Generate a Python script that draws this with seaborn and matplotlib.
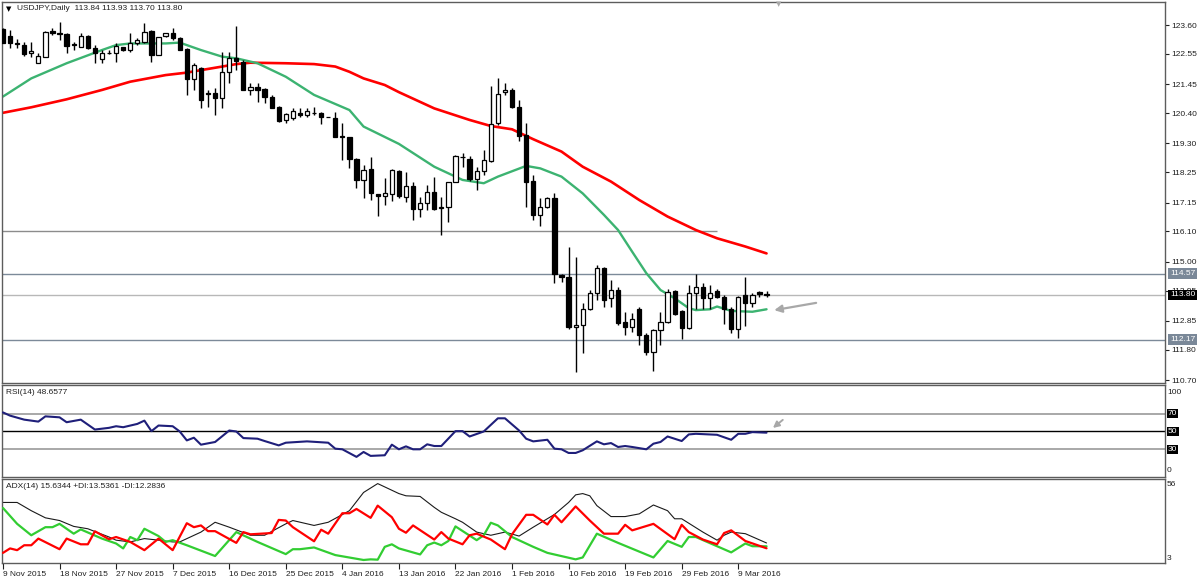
import numpy as np
import matplotlib
matplotlib.use("Agg")
import matplotlib.pyplot as plt
from matplotlib.transforms import blended_transform_factory, offset_copy
import seaborn as sns

# ------------------------------------------------------------------ data
date_labels = ["9 Nov 2015", "18 Nov 2015", "27 Nov 2015", "7 Dec 2015", "16 Dec 2015",
               "25 Dec 2015", "4 Jan 2016", "13 Jan 2016", "22 Jan 2016", "1 Feb 2016",
               "10 Feb 2016", "19 Feb 2016", "29 Feb 2016", "9 Mar 2016"]

opens = [123.44, 123.20, 122.96, 122.87, 122.59, 122.21, 122.42, 123.38, 123.30, 123.27,
         122.90, 122.79, 123.20, 122.78, 122.35, 122.59, 122.57, 122.79, 122.69, 122.93,
         122.99, 123.39, 122.51, 123.20, 123.30, 123.11, 122.72, 121.62, 122.02, 121.12,
         121.12, 120.93, 121.90, 122.39, 122.27, 121.24, 121.33, 121.26, 120.99, 120.63,
         120.15, 120.21, 120.41, 120.33, 120.41, 120.39, 120.25, 120.21, 119.55, 119.54,
         118.72, 117.97, 118.36, 117.46, 117.40, 117.46, 118.30, 117.36, 117.75, 116.90,
         117.12, 117.54, 116.95, 116.97, 117.88, 118.81, 118.72, 118.00, 118.31, 118.65,
         120.03, 121.16, 121.24, 120.61, 119.60, 117.94, 116.70, 116.97, 117.30, 114.51,
         114.46, 112.64, 112.70, 113.27, 113.87, 114.76, 113.67, 113.97, 112.82, 112.64,
         113.27, 112.33, 111.73, 112.52, 112.82, 113.94, 113.22, 112.58, 113.85, 114.09,
         113.67, 113.94, 113.73, 113.27, 112.54, 113.79, 113.51, 113.88, 113.84]
highs = [123.48, 123.42, 123.08, 122.99, 122.99, 122.57, 123.39, 123.48, 123.72, 123.30,
         122.99, 123.30, 123.24, 122.87, 122.69, 122.69, 122.93, 122.81, 123.32, 123.11,
         123.66, 123.42, 123.18, 123.32, 123.48, 123.18, 122.75, 122.21, 122.09, 121.24,
         121.30, 122.63, 122.63, 123.56, 122.33, 121.48, 121.48, 121.30, 121.06, 120.66,
         120.39, 120.57, 120.57, 120.57, 120.63, 120.45, 120.25, 120.45, 120.03, 119.54,
         118.75, 118.51, 118.81, 117.46, 118.04, 118.35, 118.33, 118.27, 117.91, 117.36,
         117.79, 118.09, 117.36, 117.91, 118.88, 118.94, 118.84, 118.45, 119.06, 121.38,
         121.66, 121.48, 121.30, 120.87, 120.03, 118.15, 117.30, 117.36, 117.51, 114.55,
         115.52, 115.18, 113.51, 113.97, 114.88, 114.82, 114.33, 114.09, 113.18, 113.12,
         113.37, 112.42, 112.54, 113.18, 114.00, 113.97, 113.24, 114.15, 114.55, 114.24,
         114.15, 113.99, 113.79, 113.37, 113.75, 114.46, 113.87, 113.94, 113.93]
lows = [122.93, 122.75, 122.75, 122.47, 122.45, 122.21, 122.42, 123.24, 123.05, 122.59,
        122.69, 122.79, 122.72, 122.23, 122.23, 122.55, 122.27, 122.67, 122.63, 122.87,
        122.93, 122.27, 122.51, 123.18, 123.05, 122.69, 121.06, 121.24, 120.57, 120.61,
        120.33, 120.57, 121.48, 121.96, 121.24, 121.06, 120.81, 120.75, 120.57, 120.09,
        120.03, 120.15, 120.27, 120.27, 120.33, 120.00, 120.24, 119.52, 118.69, 118.39,
        117.67, 117.30, 117.24, 116.66, 117.06, 117.20, 117.30, 117.18, 116.52, 116.64,
        116.88, 116.88, 115.97, 116.45, 117.88, 118.45, 117.94, 117.60, 118.15, 118.63,
        119.97, 121.06, 120.57, 119.40, 116.99, 116.52, 116.30, 116.94, 114.21, 114.27,
        112.54, 111.00, 111.67, 113.24, 113.61, 113.37, 113.37, 112.70, 112.34, 112.46,
        111.97, 111.61, 111.03, 111.97, 112.76, 113.06, 112.18, 112.54, 113.27, 113.27,
        113.27, 113.67, 112.74, 112.42, 112.22, 112.66, 113.34, 113.73, 113.70]
closes = [122.96, 122.93, 122.90, 122.55, 122.67, 122.47, 123.36, 123.32, 123.26, 122.85,
          122.89, 123.20, 122.75, 122.57, 122.57, 122.60, 122.84, 122.69, 122.93, 123.05,
          123.36, 122.51, 123.15, 123.30, 123.11, 122.69, 121.62, 122.15, 120.87, 121.10,
          120.93, 121.90, 122.39, 122.30, 121.24, 121.33, 121.24, 120.99, 120.57, 120.12,
          120.37, 120.49, 120.33, 120.47, 120.42, 120.24, 120.24, 119.52, 119.54, 118.72,
          117.97, 118.33, 117.48, 117.40, 117.50, 118.32, 117.40, 117.75, 116.90, 117.12,
          117.54, 116.90, 116.97, 117.91, 118.84, 118.82, 117.99, 118.30, 118.69, 120.00,
          121.08, 121.24, 120.61, 119.57, 117.91, 116.70, 116.97, 117.30, 114.55, 114.43,
          112.64, 112.70, 113.27, 113.87, 114.76, 113.61, 113.97, 112.78, 112.64, 112.91,
          112.33, 111.73, 112.52, 112.82, 113.91, 113.10, 112.58, 113.85, 114.09, 113.67,
          113.85, 113.73, 113.27, 112.54, 113.73, 113.49, 113.79, 113.83, 113.80]

# moving averages (bar index, price)
ma_fast_x = [0, 4, 9, 14, 16, 18, 21, 23, 25, 28, 31, 33, 36, 40, 44, 49, 51, 56, 61, 65,
             68, 70, 74, 76, 79, 82, 85, 87, 89, 91, 93, 95, 97, 98, 100, 101, 103, 106, 108]
ma_fast_y = [121.00, 121.66, 122.21, 122.69, 122.87, 122.93, 122.93, 122.93, 122.96, 122.69,
             122.45, 122.39, 122.21, 121.72, 121.06, 120.51, 119.91, 119.28, 118.45, 117.97,
             117.85, 118.09, 118.48, 118.39, 118.09, 117.48, 116.70, 116.15, 115.36, 114.58,
             113.97, 113.67, 113.31, 113.24, 113.27, 113.37, 113.21, 113.18, 113.27]
ma_slow_x = [0, 4, 9, 14, 18, 23, 26, 28, 31, 33, 35, 40, 44, 47, 49, 51, 54, 56, 61, 66,
             69, 72, 75, 79, 82, 86, 90, 94, 98, 101, 105, 108]
ma_slow_y = [120.41, 120.61, 120.90, 121.24, 121.54, 121.78, 121.87, 121.96, 122.09, 122.18,
             122.23, 122.21, 122.18, 122.09, 121.90, 121.66, 121.42, 121.16, 120.57, 120.15,
             119.93, 119.81, 119.45, 119.00, 118.45, 117.91, 117.24, 116.64, 116.15, 115.85,
             115.55, 115.30]

price_ticks = [123.60, 122.55, 121.45, 120.40, 119.30, 118.25, 117.15, 116.10, 115.00,
               113.95, 112.85, 111.80, 110.70]
level_old = 116.10
level_res = 114.57
level_last = 113.80
level_sup = 112.17

rsi_x = [0, 1, 3, 5, 6, 8, 9, 11, 13, 15, 16, 17, 19, 20, 21, 22, 24, 25, 26, 27, 28, 30,
         32, 33, 34, 36, 37, 39, 40, 43, 46, 47, 48, 50, 51, 52, 54, 55, 56, 57, 58, 59, 60,
         61, 62, 64, 65, 66, 68, 70, 71, 73, 74, 75, 77, 78, 79, 80, 81, 82, 84, 85, 86, 87,
         88, 89, 91, 92, 93, 94, 96, 97, 98, 101, 103, 104, 105, 106, 108]
rsi_y = [71.4, 67.8, 63.3, 61.1, 67.0, 65.9, 60.4, 63.3, 52.2, 54.1, 55.9, 54.8, 58.5, 62.2,
         50.4, 56.7, 55.9, 50.0, 40.0, 43.0, 35.2, 38.2, 51.1, 50.0, 42.6, 41.9, 39.3, 34.4,
         37.4, 38.9, 37.4, 30.7, 30.0, 21.5, 27.0, 22.6, 23.3, 35.2, 30.0, 33.3, 30.0, 30.0,
         35.6, 33.7, 33.7, 50.4, 50.4, 44.4, 50.0, 64.8, 64.8, 51.1, 41.9, 38.9, 40.7, 30.7,
         30.0, 25.9, 25.9, 28.9, 38.9, 35.6, 37.0, 32.6, 33.7, 32.6, 30.0, 36.3, 38.2, 44.4,
         39.3, 46.7, 47.4, 46.3, 40.7, 47.4, 47.4, 49.3, 48.66]

adx_x = [0, 2, 4, 6, 8, 10, 12, 15, 16, 18, 20, 22, 24, 25, 28, 30, 32, 35, 37, 40, 41, 44,
         46, 49, 51, 53, 56, 57, 59, 61, 62, 64, 65, 67, 69, 71, 73, 75, 78, 80, 81, 82, 83,
         84, 86, 88, 90, 92, 94, 95, 96, 99, 101, 102, 103, 105, 108]
adx_y = [41.2, 41.2, 36.0, 31.5, 29.8, 26.1, 24.6, 19.4, 17.4, 16.3, 18.4, 17.4, 16.3, 16.3,
         22.5, 28.7, 25.6, 20.5, 20.5, 27.7, 29.8, 26.7, 28.7, 36.0, 47.5, 53.1, 46.8, 45.4,
         45.0, 38.1, 35.0, 30.9, 28.7, 22.5, 20.5, 22.5, 20.0, 25.6, 33.6, 41.2, 46.0, 46.8,
         45.4, 39.2, 32.3, 32.3, 34.0, 39.6, 36.0, 30.9, 30.9, 22.5, 17.4, 20.5, 22.5, 21.5,
         15.63]
pdi_x = [0, 2, 4, 6, 7, 8, 10, 11, 14, 16, 17, 18, 19, 20, 22, 23, 24, 26, 30, 33, 36, 40,
         41, 42, 44, 47, 51, 52, 53, 54, 55, 56, 59, 60, 61, 62, 63, 64, 67, 68, 69, 70, 72,
         75, 77, 81, 82, 84, 87, 92, 94, 96, 97, 98, 103, 105, 106, 108]
pdi_y = [37.7, 27.7, 20.5, 25.6, 25.6, 27.7, 21.5, 24.2, 18.4, 15.3, 12.2, 19.4, 17.4, 24.6,
         20.0, 16.3, 17.4, 14.2, 7.4, 22.5, 16.3, 8.6, 11.7, 11.7, 12.8, 8.0, 4.9, 5.3, 5.1,
         13.2, 14.8, 12.2, 8.4, 14.2, 15.9, 14.2, 16.9, 26.1, 17.4, 20.5, 28.4, 26.7, 19.4,
         13.2, 9.4, 5.3, 6.5, 21.5, 15.7, 6.5, 16.9, 13.2, 19.4, 19.4, 9.7, 15.3, 13.6, 13.54]
mdi_x = [0, 1, 2, 3, 4, 5, 8, 9, 11, 12, 13, 15, 16, 18, 20, 22, 24, 26, 27, 28, 29, 30, 33,
         34, 35, 38, 39, 40, 41, 44, 45, 46, 48, 49, 50, 52, 53, 55, 56, 57, 58, 61, 62, 63,
         65, 66, 67, 69, 71, 72, 74, 75, 77, 78, 79, 81, 83, 85, 87, 88, 89, 92, 95, 96, 97,
         99, 101, 102, 103, 105, 108]
mdi_y = [9.4, 12.2, 11.1, 14.2, 14.2, 18.4, 11.7, 18.4, 14.8, 14.8, 23.0, 18.0, 19.4, 16.3,
         11.1, 18.4, 11.1, 28.1, 25.6, 26.7, 23.1, 23.1, 15.7, 22.5, 21.1, 21.9, 30.2, 29.8,
         25.6, 16.7, 24.0, 21.5, 34.4, 34.4, 37.1, 31.5, 39.2, 31.9, 24.6, 22.1, 26.7, 17.8,
         22.5, 18.4, 14.8, 20.5, 21.5, 17.8, 11.7, 21.1, 33.4, 33.4, 27.3, 33.4, 28.7, 38.7,
         29.8, 21.5, 21.5, 27.1, 23.6, 27.7, 18.0, 27.1, 22.5, 17.8, 14.8, 21.9, 23.6, 16.9,
         12.28]

# ------------------------------------------------------------------ style
sns.set_theme(style="white")
plt.rcParams['font.family'] = ['Liberation Sans', 'DejaVu Sans']

W, H = 1200, 583
fig = plt.figure(figsize=(W / 100, H / 100), dpi=100)
fig.patch.set_facecolor("white")


def rect(x0, y0, x1, y1):
    return [x0 / W, 1 - y1 / H, (x1 - x0) / W, (y1 - y0) / H]


ax = fig.add_axes(rect(2, 2, 1165, 383))
ax_rsi = fig.add_axes(rect(2, 385, 1165, 477))
ax_adx = fig.add_axes(rect(2, 479, 1165, 563))

XL = (-0.14, 164.36)
FRAME = "#5c5c5c"
for a in (ax, ax_rsi, ax_adx):
    a.set_xlim(*XL)
    a.set_facecolor("white")
    a.grid(False)
    for s in a.spines.values():
        s.set_color(FRAME)
        s.set_linewidth(1.0)
    a.tick_params(axis="x", bottom=False, labelbottom=False)
    a.set_xlabel("")
    a.set_ylabel("")

# ------------------------------------------------------------------ main panel
ax.set_ylim(110.591, 124.436)
n = len(opens)
idx = np.arange(n)
o = np.array(opens); h = np.array(highs); l = np.array(lows); c = np.array(closes)
up = c >= o

# level lines
ax.hlines(level_old, XL[0], 101, color="#8c8c8c", lw=1.0, zorder=1)
ax.axhline(level_res, color="#7c8a99", lw=1.0, zorder=1)
ax.axhline(level_last, color="#b8b8b8", lw=1.0, zorder=1)
ax.axhline(level_sup, color="#7c8a99", lw=1.0, zorder=1)

# moving averages
sns.lineplot(x=ma_slow_x, y=ma_slow_y, ax=ax, color="#ff0000", lw=1.9,
             estimator=None, sort=False, legend=False, zorder=2)
sns.lineplot(x=ma_fast_x, y=ma_fast_y, ax=ax, color="#3cb371", lw=1.7,
             estimator=None, sort=False, legend=False, zorder=2)

# candles
ax.vlines(idx, l, h, color="black", lw=1.0, zorder=3)
ax.bar(idx[up], (c - o)[up], bottom=o[up], width=0.6, color="white",
       edgecolor="black", linewidth=0.9, zorder=4)
ax.bar(idx[~up], (o - c)[~up], bottom=c[~up], width=0.6, color="black",
       edgecolor="black", linewidth=0.9, zorder=4)

ax.set_yticks(price_ticks)
ax.set_yticklabels([f"{v:.2f}" for v in price_ticks])
ax.yaxis.tick_right()
ax.tick_params(axis="y", right=True, left=False, labelright=True, labelleft=False,
               length=3, width=0.8, pad=1.5, labelsize=6, colors="#202020")
ax.set_xlabel(""); ax.set_ylabel("")

tr_main = offset_copy(blended_transform_factory(ax.transAxes, ax.transData),
                      fig=fig, x=4, y=0, units="dots")


def tag(axis, tr, y, text, fc):
    axis.text(0, y, text, transform=tr, ha="left", va="center", fontsize=6,
              color="white", clip_on=False, zorder=20,
              bbox=dict(boxstyle="square,pad=0.18", fc=fc, ec="none"))


tag(ax, offset_copy(blended_transform_factory(ax.transAxes, ax.transData), fig=fig,
                    x=1167 - 2 + 2 - 2 + (1165 - 2) * 0 + 0, units="dots") if False else
    offset_copy(blended_transform_factory(ax.transAxes, ax.transData), fig=fig, x=1167, units="dots"),
    level_res, f"{level_res:.2f}", "#7a8898") if False else None

tr_tag = offset_copy(blended_transform_factory(ax.transAxes, ax.transData),
                     fig=fig, x=5, units="dots")
for val, fc in ((level_res, "#7a8898"), (level_last, "#000000"), (level_sup, "#7a8898")):
    ax.text(1.0, val, f"{val:.2f}", transform=tr_tag, ha="left", va="center",
            fontsize=6, color="white", clip_on=False, zorder=20,
            bbox=dict(boxstyle="square,pad=0.2", fc=fc, ec="none"))

# arrow pointing at the fast MA
ax.annotate("", xy=(108.7, 113.22), xytext=(115.4, 113.52),
            arrowprops=dict(arrowstyle="-|>", color="#a8a8a8", lw=1.6, mutation_scale=11))

# ------------------------------------------------------------------ RSI panel
ax_rsi.set_ylim(-1.1, 102.2)
ax_rsi.axhline(70, color="#9a9a9a", lw=1.2, zorder=1)
ax_rsi.axhline(50, color="black", lw=1.0, zorder=1)
ax_rsi.axhline(30, color="#9a9a9a", lw=1.2, zorder=1)
sns.lineplot(x=rsi_x, y=rsi_y, ax=ax_rsi, color="#1f1f7a", lw=1.5,
             estimator=None, sort=False, legend=False, zorder=3)
ax_rsi.set_yticks([])
ax_rsi.set_xlabel(""); ax_rsi.set_ylabel("")
tr_r = offset_copy(blended_transform_factory(ax_rsi.transAxes, ax_rsi.transData),
                   fig=fig, x=3, units="dots")
for v in (70, 50, 30):
    ax_rsi.text(1.0, v, str(v), transform=tr_r, ha="left", va="center", fontsize=6,
                color="white", clip_on=False, zorder=20,
                bbox=dict(boxstyle="square,pad=0.12", fc="black", ec="none"))
fig.text(1167 / W, 1 - 392 / H, "100", fontsize=6, color="#202020", va="center", ha="left")
fig.text(1167 / W, 1 - 471 / H, "0", fontsize=6, color="#202020", va="center", ha="left")
fig.text(6 / W, 1 - 393 / H, "RSI(14) 48.6577", fontsize=6, color="#202020",
         va="center", ha="left")
ax_rsi.annotate("", xy=(108.6, 52.0), xytext=(110.6, 65.0),
                arrowprops=dict(arrowstyle="-|>", color="#a8a8a8", lw=1.4, mutation_scale=9))

# ------------------------------------------------------------------ ADX panel
ax_adx.set_ylim(3, 56)
sns.lineplot(x=adx_x, y=adx_y, ax=ax_adx, color="#1a1a1a", lw=0.8,
             estimator=None, sort=False, legend=False, zorder=2)
sns.lineplot(x=pdi_x, y=pdi_y, ax=ax_adx, color="#32cd32", lw=1.6,
             estimator=None, sort=False, legend=False, zorder=3)
sns.lineplot(x=mdi_x, y=mdi_y, ax=ax_adx, color="#ff0000", lw=1.6,
             estimator=None, sort=False, legend=False, zorder=4)
ax_adx.set_yticks([])
ax_adx.set_xticks(list(range(0, 8 * len(date_labels), 8)))
ax_adx.set_xticklabels(date_labels)
ax_adx.tick_params(axis="x", bottom=True, labelbottom=True, length=4, width=0.8,
                   pad=1.5, labelsize=6, colors="#202020", direction="out")
for lab in ax_adx.get_xticklabels():
    lab.set_ha("left")
ax_adx.set_xlabel(""); ax_adx.set_ylabel("")
fig.text(1167 / W, 1 - 485 / H, "56", fontsize=6, color="#202020", va="center", ha="left")
fig.text(1167 / W, 1 - 558 / H, "3", fontsize=6, color="#202020", va="center", ha="left")
fig.text(6 / W, 1 - 487 / H, "ADX(14) 15.6344 +DI:13.5361 -DI:12.2836", fontsize=6,
         color="#202020", va="center", ha="left")

# ------------------------------------------------------------------ header
fig.text(6 / W, 1 - 9 / H, "\u25bc", fontsize=5, color="black", va="center", ha="left",
         family=["DejaVu Sans"])
fig.text(17 / W, 1 - 9 / H, "USDJPY,Daily  113.84 113.93 113.70 113.80", fontsize=6,
         color="#202020", va="center", ha="left")
fig.text(779 / W, 1 - 4 / H, "\u25bc", fontsize=5, color="#a8a8a8", va="center",
         ha="center", family=["DejaVu Sans"])

fig.savefig("out.png", dpi=100, facecolor="white")
